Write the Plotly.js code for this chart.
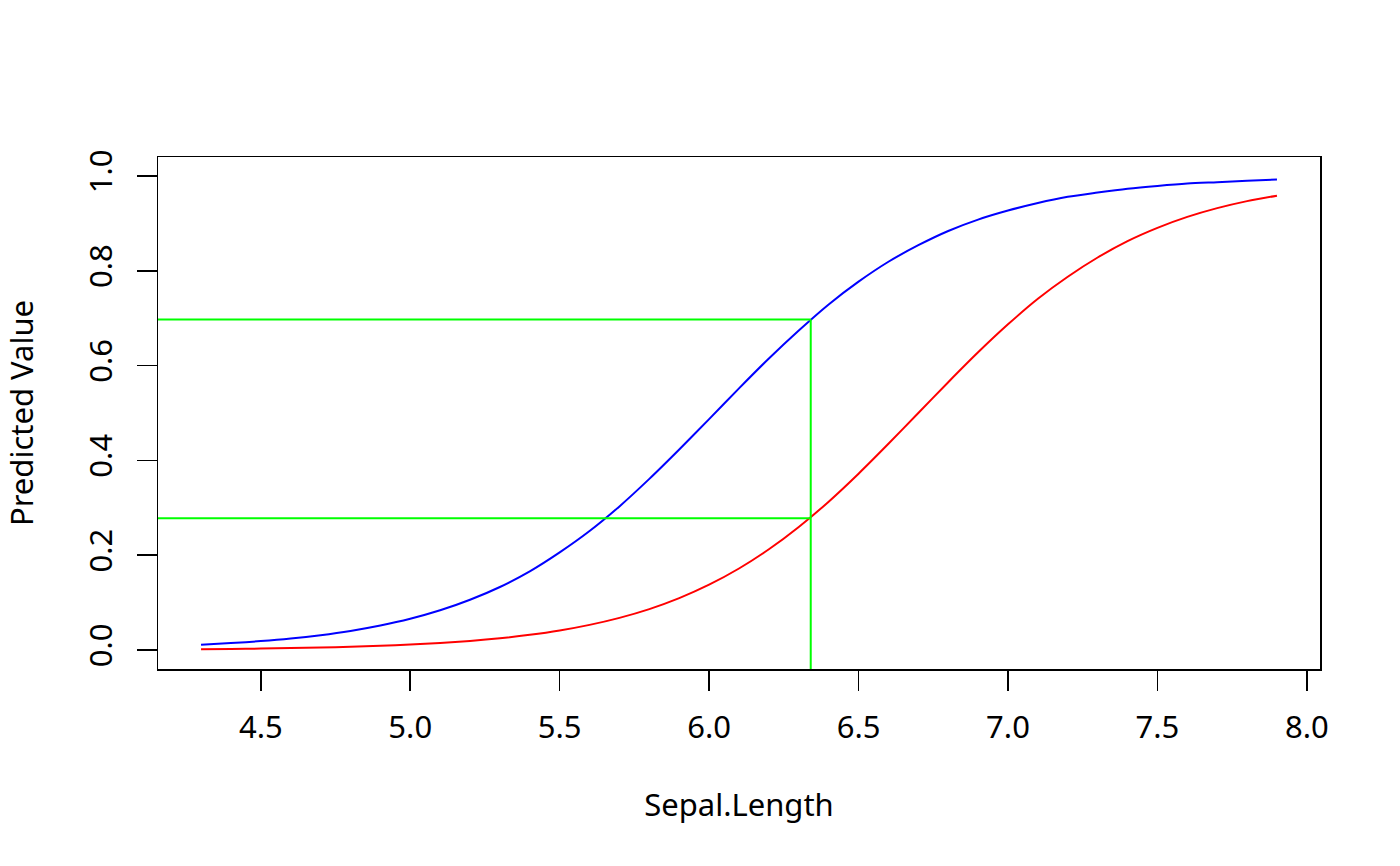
<!DOCTYPE html>
<html>
<head>
<meta charset="utf-8">
<script src="https://cdn.plot.ly/plotly-3.0.1.min.js"></script>
<style>
  html, body { margin: 0; padding: 0; background: #fff; }
  #chart { width: 1400px; height: 866px; }
</style>
</head>
<body>
<div id="chart"></div>
<script>
/* ── Data ────────────────────────────────────────────────── */
const sepalLength = [4.3, 4.4, 4.5, 4.6, 4.7, 4.8, 4.9, 5.0, 5.1, 5.2, 5.3, 5.4, 5.5,
  5.6, 5.7, 5.8, 5.9, 6.0, 6.1, 6.2, 6.3, 6.4, 6.5, 6.6, 6.7, 6.8, 6.9, 7.0,
  7.1, 7.2, 7.3, 7.4, 7.5, 7.6, 7.7, 7.8, 7.9];

const blueValues = [0.0113, 0.0146, 0.0189, 0.0243, 0.0313, 0.0402, 0.0516, 0.0659,
  0.0838, 0.106, 0.133, 0.166, 0.206, 0.251, 0.303, 0.361, 0.423, 0.487, 0.552,
  0.615, 0.674, 0.729, 0.777, 0.819, 0.854, 0.884, 0.908, 0.927, 0.943, 0.956,
  0.965, 0.973, 0.979, 0.984, 0.987, 0.990, 0.9925];

const redValues = [0.0019, 0.0024, 0.0031, 0.0041, 0.0053, 0.0068, 0.0089, 0.0115,
  0.0149, 0.0193, 0.0249, 0.0321, 0.0413, 0.0531, 0.0679, 0.0864, 0.1095, 0.1378,
  0.172, 0.2125, 0.2596, 0.313, 0.372, 0.435, 0.500, 0.565, 0.628, 0.687, 0.741,
  0.7875, 0.828, 0.8625, 0.8905, 0.9136, 0.9321, 0.9469, 0.9585];

const cutX = 6.34;
const cutLevels = [0.697, 0.278];

const xTicks = [4.5, 5.0, 5.5, 6.0, 6.5, 7.0, 7.5, 8.0];
const yTicks = [0.0, 0.2, 0.4, 0.6, 0.8, 1.0];

const X_RANGE = [4.156, 8.044];
const Y_RANGE = [-0.04, 1.04];

/* ── Traces ──────────────────────────────────────────────── */
const traces = [
  { x: sepalLength, y: blueValues, mode: 'lines',
    line: { color: '#0000ff', width: 2, shape: 'spline', smoothing: 0.8 }, hoverinfo: 'skip' },
  { x: sepalLength, y: redValues, mode: 'lines',
    line: { color: '#ff0000', width: 2, shape: 'spline', smoothing: 0.8 }, hoverinfo: 'skip' }
];
cutLevels.forEach(v => traces.push({
  x: [X_RANGE[0], cutX], y: [v, v], mode: 'lines',
  line: { color: '#00ff00', width: 2 }, hoverinfo: 'skip'
}));
traces.push({
  x: [cutX, cutX], y: [Math.max(...cutLevels), Y_RANGE[0]], mode: 'lines',
  line: { color: '#00ff00', width: 2 }, hoverinfo: 'skip'
});

const FONT = 'Noto Sans, Open Sans, sans-serif';
const FS = 31;
const axisBase = {
  showgrid: false, zeroline: false,
  showline: true, mirror: true, linecolor: '#000', linewidth: 1.5,
  ticks: 'outside', ticklen: 20, tickwidth: 1.5, tickcolor: '#000',
  tickfont: { family: FONT, size: FS, color: '#000' }
};

const layout = {
  width: 1400, height: 866,
  paper_bgcolor: '#fff', plot_bgcolor: '#fff',
  showlegend: false,
  margin: { l: 158, r: 80, t: 157, b: 197 },
  font: { family: FONT, color: '#000' },
  xaxis: Object.assign({}, axisBase, {
    range: X_RANGE, tickvals: xTicks, ticktext: xTicks.map(v => v.toFixed(1)),
    ticklabelstandoff: 10,
    title: { text: 'Sepal.Length', font: { family: FONT, size: FS }, standoff: 48 }
  }),
  yaxis: Object.assign({}, axisBase, {
    range: Y_RANGE, tickvals: yTicks, ticktext: yTicks.map(v => v.toFixed(1)),
    tickangle: -90, ticklabelstandoff: 12,
    title: { text: 'Predicted Value', font: { family: FONT, size: FS }, standoff: 44 }
  })
};

Plotly.newPlot('chart', traces, layout, { displayModeBar: false, staticPlot: true });
</script>
</body>
</html>
